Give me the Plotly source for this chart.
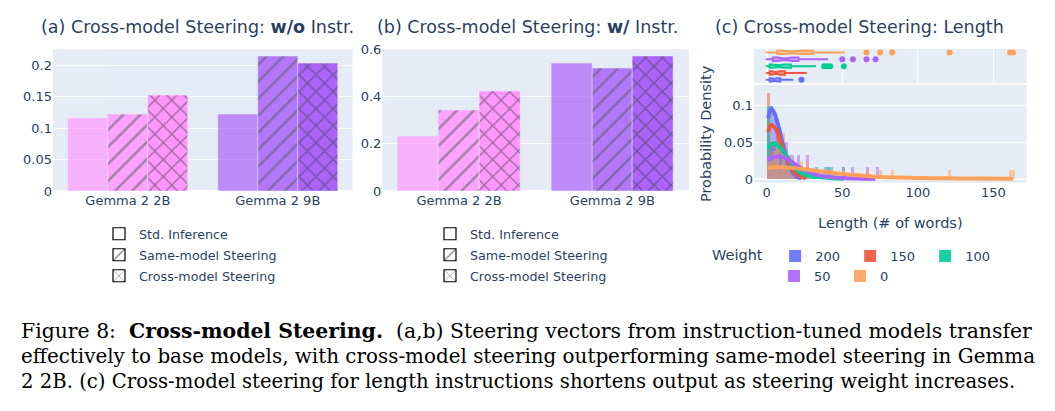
import plotly.graph_objects as go

# ---------------- data ----------------
models = ["Gemma 2 2B", "Gemma 2 9B"]
conditions = ["Std. Inference", "Same-model Steering", "Cross-model Steering"]
wo_instr = {
    "Std. Inference": [0.1165, 0.1223],
    "Same-model Steering": [0.1223, 0.2143],
    "Cross-model Steering": [0.1527, 0.2027],
}
w_instr = {
    "Std. Inference": [0.231, 0.542],
    "Same-model Steering": [0.343, 0.522],
    "Cross-model Steering": [0.424, 0.571],
}

weights = ["200", "150", "100", "50", "0"]
lengths = {
    "200": [0, 0, 1, 1, 1, 2, 2, 2, 3, 3, 3, 4, 4, 5, 5, 5, 6, 6, 7, 7, 8, 8,
            9, 10, 11, 12, 13, 15, 17, 23],
    "150": [0, 0, 0, 1, 1, 1, 1, 2, 3, 3, 4, 5, 5, 6, 6, 6, 7, 8, 8, 9, 10, 10,
            12, 13, 14, 15, 17, 19, 22, 26],
    "100": [0, 0, 0, 1, 1, 1, 2, 2, 3, 4, 5, 5, 6, 7, 7, 8, 9, 10, 11, 12, 13, 15,
            16, 18, 22, 32, 38, 40, 42, 51],
    "50": [0, 1, 2, 3, 3, 4, 4, 4, 6, 7, 8, 9, 10, 11, 12, 12, 13, 15, 16, 17, 19, 20,
           21, 26, 27, 40, 50, 57, 66, 72],
    "0": [0, 1, 2, 3, 4, 4, 5, 6, 6, 7, 7, 8, 10, 10, 11, 11, 11, 13, 15, 16,
          17, 18, 19, 20, 22, 23, 25, 26, 27, 29, 32, 36, 43, 51,
          66, 75, 83, 121, 161, 163],
}
# density curves (x: words, y: density)
kde_x = {
    "200": [1, 3, 5, 8, 11, 14, 17, 20, 23],
    "150": [1, 3, 6, 9, 12, 15, 18, 22, 26],
    "100": [1, 3, 5, 8, 12, 16, 20, 25, 30, 36, 42, 51],
    "50": [1, 4, 8, 12, 16, 20, 25, 30, 35, 40, 50, 60, 72],
    "0": [1, 5, 10, 20, 30, 40, 50, 60, 70, 80, 100, 120, 140, 163],
}
kde_y = {
    "200": [0.083, 0.096, 0.090, 0.070, 0.045, 0.025, 0.010, 0.003, 0.001],
    "150": [0.064, 0.0735, 0.068, 0.052, 0.035, 0.020, 0.010, 0.004, 0.001],
    "100": [0.042, 0.047, 0.0486, 0.045, 0.035, 0.022, 0.012, 0.006, 0.003, 0.0025, 0.0015, 0.0005],
    "50": [0.026, 0.029, 0.031, 0.029, 0.024, 0.018, 0.012, 0.008, 0.005, 0.003, 0.0015, 0.0008, 0.0003],
    "0": [0.0148, 0.016, 0.016, 0.0145, 0.012, 0.0095, 0.007, 0.005, 0.0035, 0.0025, 0.0015, 0.001, 0.0006, 0.0004],
}
caption = [
    "Figure 8:  <b>Cross-model Steering.</b>  (a,b) Steering vectors from instruction-tuned models transfer",
    "effectively to base models, with cross-model steering outperforming same-model steering in Gemma",
    "2 2B. (c) Cross-model steering for length instructions shortens output as steering weight increases.",
]

# ---------------- style / layout helpers ----------------
OFF = 8                      # page body margin
W, H = 1055 - OFF, 411 - OFF
def px(x):
    return (x - OFF) / W
def py(y):
    return 1 - (y - OFF) / H

model_colors = ["#FF97FF", "#AB63FA"]
cond_opacity = {"Std. Inference": 0.7, "Same-model Steering": 0.85, "Cross-model Steering": 1.0}
cond_shape = {"Std. Inference": "", "Same-model Steering": "/", "Cross-model Steering": "x"}
weight_colors = {"200": "#636EFA", "150": "#EF553B", "100": "#00CC96", "50": "#AB63FA", "0": "#FFA15A"}
FONT = "DejaVu Sans"
TXT = "#2a3f5f"

fig = go.Figure()

gw = 0.8 / 3
for data, xa, ya, lg in [(wo_instr, "x", "y", "legend"), (w_instr, "x2", "y2", "legend2")]:
    for k, cond in enumerate(conditions):
        fig.add_trace(go.Bar(
            x=models, y=data[cond], xaxis=xa, yaxis=ya,
            width=gw, offset=-0.4 + k * gw,
            marker=dict(color=model_colors,
                        line=dict(color="#E5ECF6", width=0.5),
                        pattern=dict(shape=cond_shape[cond], size=12, solidity=0.2,
                                     fgcolor="#444", fgopacity=0.55)),
            opacity=cond_opacity[cond], showlegend=False, name=cond,
        ))
    for k, cond in enumerate(conditions):
        fig.add_trace(go.Bar(
            x=[None], y=[None], xaxis=xa, yaxis=ya, name=cond, legend=lg,
            legendgroup=lg + str(k),
            marker=dict(color="white", line=dict(color="black", width=1.2),
                        pattern=dict(shape=cond_shape[cond], size=12, solidity=0.15,
                                     fgcolor="black")),
            showlegend=True,
        ))

for w in weights:
    fig.add_trace(go.Histogram(
        x=lengths[w], xaxis="x3", yaxis="y3", histnorm="probability density",
        xbins=dict(start=0, end=170, size=2), marker_color=weight_colors[w],
        opacity=0.5, name=w, legendgroup=w, showlegend=False,
    ))
for w in weights:
    fig.add_trace(go.Box(
        x=lengths[w], xaxis="x4", yaxis="y4", name=w, legendgroup=w,
        orientation="h", notched=True, marker_color=weight_colors[w],
        showlegend=False,
    ))
for w in weights:
    fig.add_trace(go.Scatter(
        x=kde_x[w], y=kde_y[w], xaxis="x3", yaxis="y3", mode="lines",
        line=dict(color=weight_colors[w], width=4, shape="spline"),
        legendgroup=w, showlegend=False,
    ))
# legend keys for panel (c)
for w in weights:
    fig.add_trace(go.Bar(
        x=[None], y=[None], xaxis="x3", yaxis="y3", name=w, legendgroup=w,
        marker=dict(color=weight_colors[w], line=dict(width=0)), opacity=0.9,
        legend="legend3" if w in ("200", "150", "100") else "legend4",
    ))

tick = dict(size=13, family=FONT, color=TXT)
fig.update_layout(
    width=W, height=H, margin=dict(l=0, r=0, t=0, b=0, autoexpand=False),
    template="plotly", barmode="overlay", bargap=0,
    font=dict(family=FONT, color=TXT, size=13),
    xaxis=dict(domain=[px(53), px(352.7)], anchor="y", tickfont=tick, automargin=False),
    yaxis=dict(domain=[py(191), py(49.3)], anchor="x", range=[0, 0.2256], tickfont=tick, automargin=False),
    xaxis2=dict(domain=[px(382.4), px(689)], anchor="y2", tickfont=tick, automargin=False),
    yaxis2=dict(domain=[py(191), py(49.3)], anchor="x2", range=[0, 0.6005], dtick=0.2, tickfont=tick,
                automargin=False),
    xaxis3=dict(domain=[px(754), px(1026.7)], anchor="y3", range=[-8.4, 172], showgrid=False,
                tickfont=tick, automargin=False,
                title=dict(text="Length (# of words)", font=dict(size=14.5), standoff=19)),
    yaxis3=dict(domain=[py(182.7), py(85)], anchor="x3", range=[-0.005, 0.128], dtick=0.05,
                tickfont=tick, automargin=False,
                title=dict(text="Probability Density", font=dict(size=14.5), standoff=8)),
    xaxis4=dict(domain=[px(754), px(1026.7)], anchor="y4", range=[-8.4, 172], showticklabels=False,
                automargin=False),
    yaxis4=dict(domain=[py(83.3), py(49)], anchor="x4", showticklabels=False, showgrid=False,
                automargin=False),
    legend=dict(x=px(99), y=py(219), xanchor="left", yanchor="top", font=dict(size=12.7),
                bgcolor="rgba(0,0,0,0)", tracegroupgap=1.5),
    legend2=dict(x=px(430), y=py(219), xanchor="left", yanchor="top", font=dict(size=12.7),
                 bgcolor="rgba(0,0,0,0)", tracegroupgap=1.5),
    legend3=dict(x=px(710), y=py(241), xanchor="left", yanchor="top", orientation="h",
                 title=dict(text="Weight&nbsp;", font=dict(size=14.5)), font=dict(size=13),
                 entrywidth=30, entrywidthmode="pixels", bgcolor="rgba(0,0,0,0)"),
    legend4=dict(x=px(774), y=py(261), xanchor="left", yanchor="top", orientation="h",
                 font=dict(size=13), entrywidth=21, entrywidthmode="pixels",
                 bgcolor="rgba(0,0,0,0)"),
    showlegend=True,
)

titles = [
    ("(a) Cross-model Steering: <b>w/o</b> Instr.", 39),
    ("(b) Cross-model Steering: <b>w/</b> Instr.", 375),
    ("(c) Cross-model Steering: Length", 712.7),
]
for text, x0 in titles:
    fig.add_annotation(text=text, x=px(x0), y=py(27), xref="paper", yref="paper",
                       xanchor="left", yanchor="middle", showarrow=False,
                       font=dict(size=17.5, family=FONT, color=TXT))

SERIF = "DejaVu Serif"
for text, yc, fs in zip(caption, [331, 356, 381], [20.4, 19.9, 19.65]):
    fig.add_annotation(text=text, x=px(19), y=py(yc), xref="paper", yref="paper",
                       xanchor="left", yanchor="middle", showarrow=False,
                       font=dict(size=fs, family=SERIF, color="black"))

fig.write_html("out.html")
